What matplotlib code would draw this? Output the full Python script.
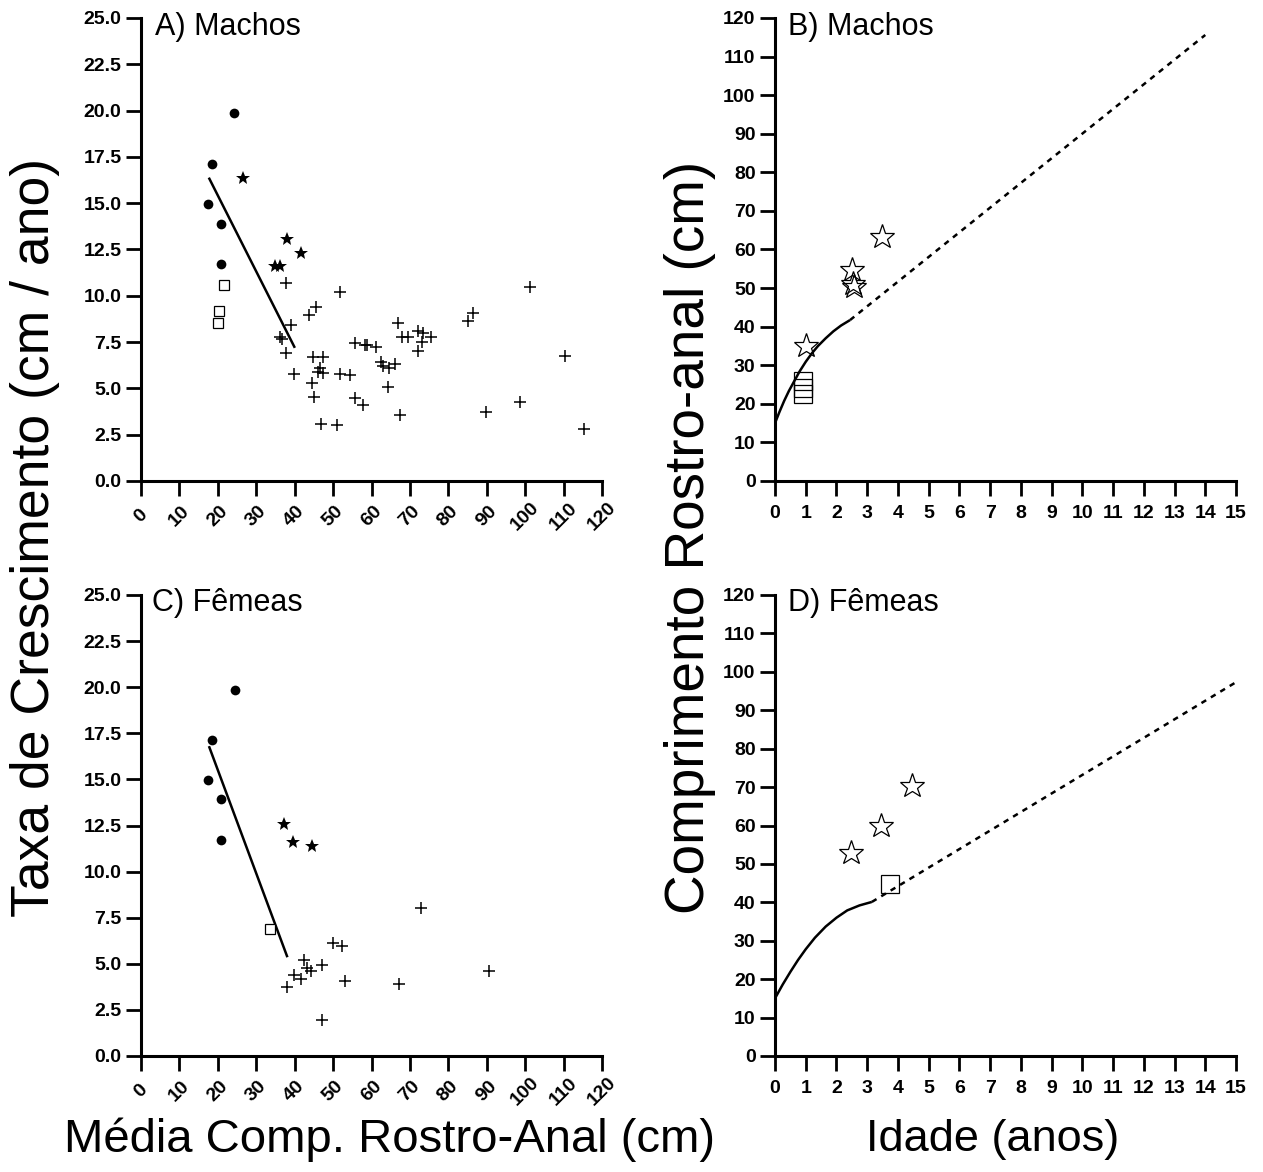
import matplotlib
matplotlib.use("Agg")
import matplotlib.pyplot as plt
from matplotlib import font_manager

plt.rcParams['font.family'] = ['Liberation Sans', 'DejaVu Sans']
_names = {f.name for f in font_manager.fontManager.ttflist}
TICKFAMILY = ['Liberation Sans Narrow', 'Liberation Sans'] if 'Liberation Sans Narrow' in _names else ['Liberation Sans']
TICKFS = 15.5 if 'Liberation Sans Narrow' in _names else 14

# ---------------- Data ----------------
# Panel A (Machos): growth rate vs mean length
a_circle_x = [24.3, 18.6, 17.5, 20.7, 20.7]
a_circle_y = [19.85, 17.1, 14.94, 13.9, 11.7]
a_star_x = [26.6, 37.9, 41.7, 34.9, 36.2]
a_star_y = [16.38, 13.07, 12.33, 11.63, 11.63]
a_square_x = [21.5, 20.2, 20.0]
a_square_y = [10.58, 9.18, 8.55]
a_plus_x = [37.8, 45.5, 43.8, 39.0, 36.2, 36.6, 37.7, 39.8, 44.7, 47.3, 46.6, 46.2,
            47.3, 44.4, 45.1, 46.9, 51.0, 51.8, 101.3, 66.8, 86.4, 85.1, 55.7, 58.3,
            58.8, 61.2, 67.9, 69.4, 72.2, 73.4, 75.4, 73.1, 72.1, 62.5, 63.1, 64.6,
            66.1, 51.8, 54.4, 64.2, 55.7, 57.7, 67.3, 89.8, 98.7, 110.4, 115.4]
a_plus_y = [10.67, 9.38, 8.96, 8.42, 7.79, 7.65, 6.93, 5.78, 6.68, 6.68, 6.09, 5.90,
            5.85, 5.27, 4.52, 3.08, 3.02, 10.22, 10.49, 8.55, 9.05, 8.64, 7.47, 7.34,
            7.34, 7.22, 7.76, 7.76, 8.10, 7.97, 7.76, 7.52, 7.02, 6.44, 6.21, 6.09,
            6.32, 5.78, 5.72, 5.06, 4.50, 4.10, 3.56, 3.74, 4.28, 6.75, 2.79]
a_line_x = [17.8, 39.9]
a_line_y = [16.32, 7.25]

# Panel C (Fêmeas)
c_circle_x = [24.4, 18.6, 17.5, 20.7, 20.7]
c_circle_y = [19.85, 17.12, 14.97, 13.92, 11.70]
c_star_x = [37.1, 39.5, 44.6]
c_star_y = [12.56, 11.59, 11.39]
c_square_x = [33.5]
c_square_y = [6.87]
c_plus_x = [50.1, 52.3, 42.3, 47.2, 43.1, 44.2, 39.8, 41.6, 37.9, 53.1, 47.1, 73.0, 67.2, 90.7]
c_plus_y = [6.11, 5.98, 5.21, 4.93, 4.76, 4.61, 4.39, 4.16, 3.72, 4.07, 1.95, 8.01, 3.89, 4.61]
c_line_x = [17.8, 38.0]
c_line_y = [16.74, 5.42]

# Panel B (Machos): length vs age
b_star_x = [3.49, 2.5, 2.53, 2.56, 1.0]
b_star_y = [63.2, 54.7, 51.1, 50.3, 35.0]
b_square_x = [0.9, 0.9, 0.9]
b_square_y = [22.5, 24.0, 26.0]
b_curve_age = [0, 0.15, 0.3, 0.45, 0.6, 0.8, 1.0, 1.2, 1.4, 1.65, 1.9, 2.15, 2.44]
b_curve_len = [15, 18.0, 20.8, 23.3, 25.5, 28.4, 30.9, 33.1, 35.0, 37.0, 38.8, 40.3, 41.7]
b_dot_age = [2.44, 14.0]
b_dot_len = [41.7, 115.6]

# Panel D (Fêmeas)
d_star_x = [4.46, 3.45, 2.47]
d_star_y = [70.3, 59.8, 52.9]
d_square_x = [3.74]
d_square_y = [44.8]
d_curve_age = [0, 0.25, 0.5, 0.75, 1.0, 1.3, 1.65, 2.0, 2.35, 2.75, 3.15]
d_curve_len = [15, 18.6, 21.9, 25.0, 27.8, 30.8, 33.7, 36.0, 37.9, 39.2, 40.1]
d_dot_age = [3.15, 15.0]
d_dot_len = [40.1, 97.3]

rate_ticks = [0.0, 2.5, 5.0, 7.5, 10.0, 12.5, 15.0, 17.5, 20.0, 22.5, 25.0]
len_ticks = list(range(0, 121, 10))
age_ticks = list(range(0, 16))

# ---------------- Figure ----------------
W, H = 1263, 1172
fig = plt.figure(figsize=(W / 100, H / 100), dpi=100)

def rect(l, r, t, b):
    return [l / W, 1 - b / H, (r - l) / W, (b - t) / H]

axA = fig.add_axes(rect(141, 602, 18, 481))
axB = fig.add_axes(rect(775, 1236, 18, 481))
axC = fig.add_axes(rect(141, 602, 595, 1056))
axD = fig.add_axes(rect(775, 1236, 595, 1056))

def style(ax):
    for s in ['top', 'right']:
        ax.spines[s].set_visible(False)
    for s in ['left', 'bottom']:
        ax.spines[s].set_linewidth(2.2)
    ax.tick_params(direction='out', length=10.5, width=2.0, labelsize=TICKFS)

def ticklabel_font(ax):
    for lab in ax.get_xticklabels() + ax.get_yticklabels():
        lab.set_family(TICKFAMILY)
        lab.set_fontweight('bold')
        lab.set_fontsize(TICKFS)

for ax, cx, cy, sx, sy, qx, qy, px, py, lx, ly in [
        (axA, a_circle_x, a_circle_y, a_star_x, a_star_y, a_square_x, a_square_y,
         a_plus_x, a_plus_y, a_line_x, a_line_y),
        (axC, c_circle_x, c_circle_y, c_star_x, c_star_y, c_square_x, c_square_y,
         c_plus_x, c_plus_y, c_line_x, c_line_y)]:
    style(ax)
    ax.plot(lx, ly, color='black', lw=1.8)
    ax.plot(cx, cy, 'o', color='black', ms=7, mew=0)
    ax.plot(sx, sy, '*', color='black', ms=10, mew=0)
    ax.plot(qx, qy, 's', mfc='white', mec='black', ms=7.2, mew=0.9)
    ax.plot(px, py, '+', color='black', ms=9, mew=1.1)
    ax.set_xlim(0, 120)
    ax.set_ylim(0, 25)
    ax.set_xticks(len_ticks)
    ax.set_xticklabels([str(v) for v in len_ticks], rotation=45, ha='center', va='center')
    ax.tick_params(axis='x', pad=15)
    ax.set_yticks(rate_ticks)
    ax.set_yticklabels([f"{v:.1f}" for v in rate_ticks])
    ticklabel_font(ax)

for ax, sx, sy, qx, qy, ca, cl, da, dl in [
        (axB, b_star_x, b_star_y, b_square_x, b_square_y, b_curve_age, b_curve_len, b_dot_age, b_dot_len),
        (axD, d_star_x, d_star_y, d_square_x, d_square_y, d_curve_age, d_curve_len, d_dot_age, d_dot_len)]:
    style(ax)
    ax.plot(ca, cl, color='black', lw=1.8, solid_capstyle='butt', solid_joinstyle='round')
    ax.plot(da, dl, color='black', lw=1.8, linestyle=(0, (2.2, 2.2)))
    ax.plot(qx, qy, 's', mfc='none', mec='black', ms=13.5, mew=0.9)
    ax.plot(sx, sy, '*', mfc='none', mec='black', ms=18.5, mew=0.9)
    ax.set_xlim(0, 15)
    ax.set_ylim(0, 120)
    ax.set_xticks(age_ticks)
    ax.set_yticks(len_ticks)
    ax.tick_params(axis='x', pad=6.5)
    ticklabel_font(ax)

# Panel titles
TFS = 22
fig.text(155 / W, 1 - 35 / H, "A) Machos", fontsize=TFS, va='baseline', ha='left')
fig.text(788 / W, 1 - 35 / H, "B) Machos", fontsize=TFS, va='baseline', ha='left')
fig.text(152 / W, 1 - 611 / H, "C) Fêmeas", fontsize=TFS, va='baseline', ha='left')
fig.text(788 / W, 1 - 611 / H, "D) Fêmeas", fontsize=TFS, va='baseline', ha='left')

# Axis labels
fig.text(35 / W, 1 - 537 / H, "Taxa de Crescimento (cm / ano)", fontsize=38.5,
         rotation=90, ha='center', va='center')
fig.text(690 / W, 1 - 537 / H, "Comprimento Rostro-anal (cm)", fontsize=39.5,
         rotation=90, ha='center', va='center')
fig.text(390 / W, 1 - 1140 / H, "Média Comp. Rostro-Anal (cm)", fontsize=34,
         ha='center', va='center')
fig.text(993 / W, 1 - 1140 / H, "Idade (anos)", fontsize=32.5,
         ha='center', va='center')

fig.savefig("out.png", dpi=100, facecolor='white')
